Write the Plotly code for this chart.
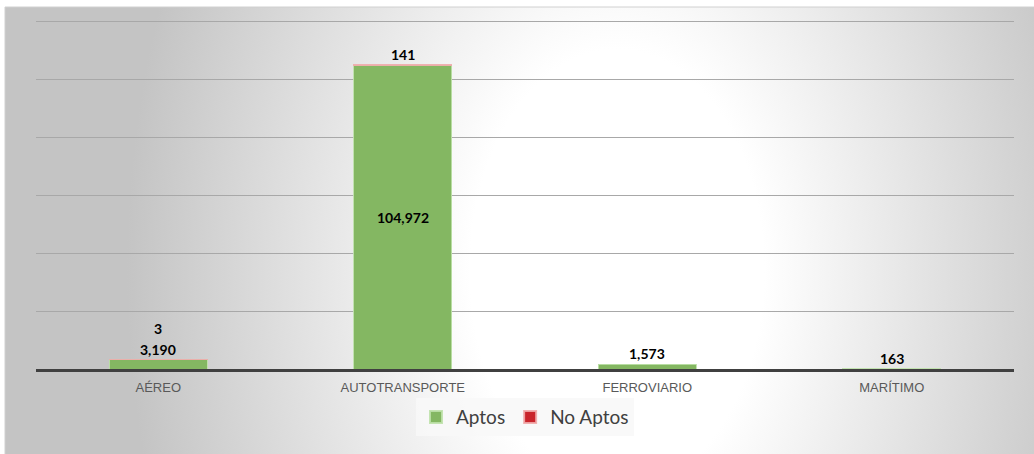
import urllib.parse
import plotly.graph_objects as go

# data
categories = ["AÉREO", "AUTOTRANSPORTE", "FERROVIARIO", "MARÍTIMO"]
aptos = [3190, 104972, 1573, 163]
no_aptos = [3, 141, 0, 0]

y_max = 120000
y_step = 20000

GREEN = "#84B762"
RED = "#C9242B"

# grey->white path gradient like the Excel chart area
bg_svg = (
    "<svg xmlns='http://www.w3.org/2000/svg' width='1029' height='447' preserveAspectRatio='none'>"
    "<defs><radialGradient id='g' gradientUnits='userSpaceOnUse' cx='612' cy='263' r='490' "
    "gradientTransform='translate(612,263) scale(1,1.5) translate(-612,-263)'>"
    "<stop offset='0' stop-color='#ffffff'/>"
    "<stop offset='0.3' stop-color='#ffffff'/>"
    "<stop offset='1' stop-color='#c4c4c4'/>"
    "</radialGradient></defs>"
    "<rect width='1029' height='447' fill='url(#g)'/></svg>"
)
bg_uri = "data:image/svg+xml;charset=utf-8," + urllib.parse.quote(bg_svg)

fig = go.Figure()
fig.add_trace(
    go.Bar(
        x=categories,
        y=aptos,
        name="Aptos",
        marker=dict(color=GREEN, line=dict(color="rgba(190,225,170,0.9)", width=1)),
    )
)
fig.add_trace(
    go.Bar(
        x=categories,
        y=no_aptos,
        name="No Aptos",
        marker=dict(
            color=RED,
            line=dict(color="rgba(240,170,170,0.9)", width=[1 if v else 0 for v in no_aptos]),
        ),
    )
)

label_font = dict(family="Lato, Carlito, Calibri, sans-serif", size=14, color="#000000")

# data labels
for cat, a, n in zip(categories, aptos, no_aptos):
    inside = a > y_max * 0.1
    if inside:
        fig.add_annotation(x=cat, y=a / 2, text=f"<b>{a:,}</b>", showarrow=False,
                           yanchor="middle", font=label_font)
    else:
        fig.add_annotation(x=cat, y=a + n, text=f"<b>{a:,}</b>", showarrow=False,
                           yanchor="bottom", font=label_font)
    if n:
        shift = 0 if inside else 21
        fig.add_annotation(x=cat, y=a + n, text=f"<b>{n:,}</b>", showarrow=False,
                           yanchor="bottom", yshift=shift, font=label_font)

# plot area: x 36..1014, y 18..369 (120000 gridline at ~21)
L, R, T, B = 36, 20, 18, 85
W, H = 1034, 454
pw, ph = W - L - R, H - T - B
bx0, by0 = 5, 7
fig.add_layout_image(
    source=bg_uri,
    xref="paper", yref="paper",
    x=(bx0 - L) / pw, y=(H - B - by0) / ph,
    sizex=(W - bx0) / pw, sizey=(H - by0) / ph,
    xanchor="left", yanchor="top",
    sizing="stretch", layer="below",
)
fig.add_shape(
    type="rect", xref="paper", yref="paper",
    x0=(bx0 - L) / pw, x1=(W - L + 5) / pw,
    y0=-(B + 5) / ph, y1=(H - B - by0) / ph,
    line=dict(color="#d0d0d0", width=1), layer="below",
)

fig.update_layout(
    width=W,
    height=H,
    barmode="stack",
    bargap=0.6,
    margin=dict(l=L, r=R, t=T, b=B),
    paper_bgcolor="#ffffff",
    plot_bgcolor="rgba(0,0,0,0)",
    showlegend=True,
    legend=dict(
        orientation="h",
        x=0.5, xanchor="center",
        y=-0.083, yanchor="top",
        font=dict(family="Lato, Carlito, Calibri, sans-serif", size=19, color="#404040"),
        bgcolor="rgba(248,248,248,0.85)",
        itemsizing="constant",
        traceorder="normal",
    ),
    xaxis=dict(
        showgrid=False,
        showline=True,
        linecolor="#404040",
        linewidth=3,
        tickfont=dict(family="Arial, Liberation Sans, sans-serif", size=13, color="#595959"),
        ticks="",
        ticklabelstandoff=4,
    ),
    yaxis=dict(
        range=[0, y_max * 1.01],
        tickmode="array",
        tickvals=list(range(0, y_max + 1, y_step)),
        showticklabels=False,
        showgrid=True,
        gridcolor="#a8a8a8",
        gridwidth=1,
        zeroline=False,
    ),
)

fig.write_html(
    "out.html",
    config={"displayModeBar": False},
    post_script="document.body.style.margin='0';",
)
